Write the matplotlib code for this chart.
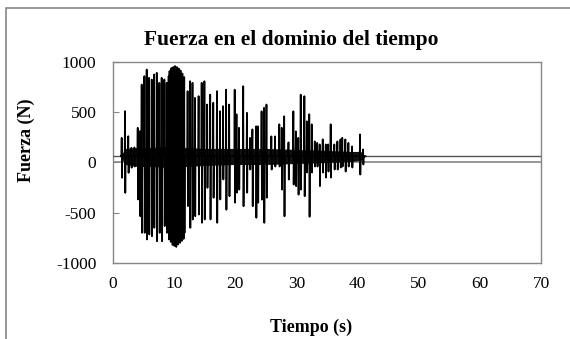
import matplotlib
matplotlib.use("Agg")
import matplotlib.pyplot as plt
from matplotlib.patches import Rectangle

# ---- data ----
baseline = 63  # N, signal resting level
t_start, t_end, t_max = 1.3, 41.3, 70.0  # active part of the signal (s)

spike_t = [1.42, 1.96, 2.5, 3.0, 3.5, 4.04, 4.42, 4.69, 5.13, 5.51, 5.89, 6.33, 6.71,
           7.15, 7.58, 7.96, 8.4, 8.78, 9.1,
           9.25, 9.4, 9.55, 9.7, 9.85, 10.0, 10.15, 10.3, 10.45,
           10.6, 10.75, 10.9, 11.05, 11.2, 11.35, 11.5, 11.65,
           12.2, 12.6, 13.0, 13.4, 14.0, 14.5, 14.95, 15.4, 15.9, 16.4, 17.0, 17.5,
           18.0, 18.5, 19.0, 19.9, 20.2, 20.6, 21.3, 21.9, 22.4, 22.8, 23.4, 23.7,
           24.3, 24.7, 25.1, 25.9, 26.5, 27.2, 27.6, 28.0, 28.7, 29.5, 29.9, 30.3,
           30.7, 31.3, 31.7, 32.1, 32.5, 33.0, 33.4, 33.8, 34.3, 34.8, 35.2, 35.6,
           36.2, 36.7, 37.2, 37.5, 38.0, 38.5, 39.1, 40.4, 40.9]
spike_up = [245, 511, 262, 146, 150, 345, 312, 776, 859, 925, 842, 826, 876,
            892, 793, 842, 826, 793, 859,
            910, 870, 940, 900, 950, 915, 960, 925, 950,
            905, 935, 880, 915, 860, 885, 830, 850,
            710, 809, 793, 643, 660, 793, 809, 577, 676, 594, 710, 511,
            561, 725, 577, 725, 480, 345, 759, 494, 245, 330, 360, 360,
            510, 544, 577, 260, 260, 380, 345, 460, 200, 510, 310, 245,
            675, 660, 410, 480, 380, 210, 195, 180, 230, 180, 180, 380,
            180, 210, 230, 245, 230, 195, 160, 280, 130]
spike_down = [-152, -302, -103, -52, -40, -368, -534, -700, -700, -766, -716, -733, -650,
              -783, -700, -783, -633, -700, -766,
              -740, -790, -760, -820, -780, -830, -800, -840, -790,
              -815, -770, -800, -750, -780, -730, -760, -700,
              -434, -650, -567, -534, -518, -600, -567, -252, -567, -351, -600, -368,
              -169, -470, -335, -400, -300, -270, -435, -300, -70, -435, -550, -400,
              -370, -600, -350, -70, -40, -40, -270, -535, -170, -220, -235, -320,
              -270, -335, -100, -540, -100, -40, -40, -235, -100, -150, -90, -150,
              -70, -70, -50, -40, -90, -40, -50, -120, -20]

band_t = [1.3, 2.0, 4.0, 6.0, 9.0, 12.0, 15.0, 20.0, 25.0, 30.0, 35.0, 39.0, 40.5, 41.3]
band_hi = [70, 140, 150, 150, 160, 150, 140, 140, 140, 130, 120, 110, 110, 63]
band_lo = [55, -20, -40, -40, -50, -40, -30, -20, -20, -10, 0, 10, 20, 63]

x_ticks = [0, 10, 20, 30, 40, 50, 60, 70]
y_ticks = [-1000, -500, 0, 500, 1000]

# ---- build the active trace ----
xs = [t_start]
ys = [baseline]
for t, u, d in zip(spike_t, spike_up, spike_down):
    xs += [t - 0.05, t, t + 0.05, t + 0.1]
    ys += [baseline, u, d, baseline]
xs.append(t_end)
ys.append(baseline)

serif = ["Liberation Serif", "DejaVu Serif"]
grey = "#868686"

fig = plt.figure(figsize=(5.7, 3.39), dpi=100)
fig.patch.set_facecolor("white")
ax = fig.add_axes([113 / 570, 1 - 263 / 339, (541 - 113) / 570, (263 - 62) / 339])

ax.axhline(0, color=grey, lw=1.2, zorder=1)
# quiet parts of the record (before and after the activity)
ax.plot([0, t_start], [baseline, baseline], color="#555555", lw=1.0, zorder=3)
ax.plot([t_end, t_max], [baseline, baseline], color="#555555", lw=1.0, zorder=3)
ax.fill_between(band_t, band_lo, band_hi, color="#111111", lw=0, zorder=2)
ax.plot(xs, ys, color="black", lw=1.25, zorder=3)

ax.set_xlim(0, 70)
ax.set_ylim(-1000, 1000)
ax.set_xticks(x_ticks)
ax.set_yticks(y_ticks)
ax.set_xticklabels([str(v) for v in x_ticks], family=serif, fontsize=12.5)
ax.set_yticklabels([str(v) for v in y_ticks], family=serif, fontsize=12.5)
ax.tick_params(axis="x", length=0, pad=9)
ax.tick_params(axis="y", direction="in", length=4, color=grey, pad=12)
for s in ax.spines.values():
    s.set_color(grey)
    s.set_linewidth(1.0)

fig.text(291 / 570, 1 - 40 / 339, "Fuerza en el dominio del tiempo", family=serif,
         fontsize=15.5, fontweight="bold", ha="center", va="center")
fig.text(311 / 570, 1 - 327 / 339, "Tiempo (s)", family=serif,
         fontsize=13, fontweight="bold", ha="center", va="center")
fig.text(26 / 570, 1 - 140 / 339, "Fuerza (N)", family=serif,
         fontsize=13, fontweight="bold", ha="center", va="center", rotation=90)

fig.patches.append(Rectangle((6 / 570, -0.1), 1.2, 1.1 - 8 / 339,
                             transform=fig.transFigure, fill=False,
                             edgecolor=grey, lw=1.2))

fig.savefig("out.png", dpi=100)
